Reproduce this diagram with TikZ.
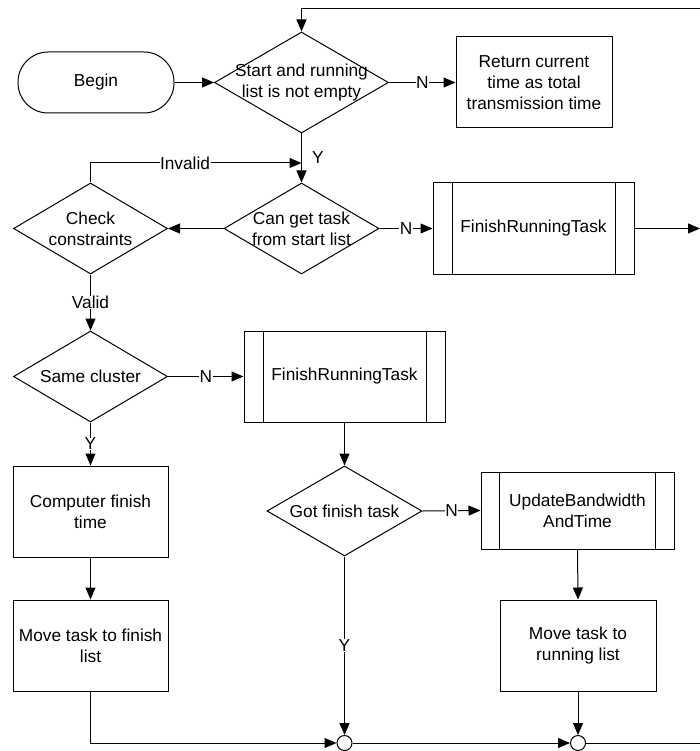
\documentclass[tikz,border=0pt]{standalone}
\usepackage{fontspec}
\setmainfont{Liberation Sans}
\usetikzlibrary{shapes.geometric,arrows.meta,calc}
\begin{document}
\begin{tikzpicture}[x=1pt,y=-1pt,
  every node/.style={font=\fontsize{17.3}{21}\selectfont},
  line/.style={draw=black,line width=1pt},
  arr/.style={line,-{Triangle[length=12pt,width=10pt]}},
  term/.style={draw,line width=1pt,rounded corners=30pt,minimum width=156pt,minimum height=61pt,inner sep=0pt},
  dec/.style={draw,diamond,line width=1pt,inner sep=0pt},
  proc/.style={draw,rectangle,line width=1pt,inner sep=0pt,align=center},
  sub/.style={proc,path picture={
     \draw[line width=1pt] ([xshift=#1]path picture bounding box.north west) -- ([xshift=#1]path picture bounding box.south west);
     \draw[line width=1pt] ([xshift=-#1]path picture bounding box.north east) -- ([xshift=-#1]path picture bounding box.south east);}},
  joint/.style={draw,circle,line width=1pt,minimum size=15pt,inner sep=0pt},
  lbl/.style={fill=white,inner sep=0.5pt},
  dtext/.style={label={[align=center]center:#1}}
]
\useasboundingbox (0,0) rectangle (700,751);

% nodes
\node[term] (begin) at (96,82.5) {Begin};
\node[dec,minimum width=174pt,minimum height=101pt,dtext={Start and running\\list is not empty}] (d1) at (301.5,82.5) {};
\node[proc,minimum width=156pt,minimum height=91pt] (ret) at (534,82.5) {Return current\\time as total\\transmission time};
\node[dec,minimum width=154pt,minimum height=91pt,dtext={Check\\constraints}] (cc) at (90.5,228.5) {};
\node[dec,minimum width=155pt,minimum height=91pt,dtext={Can get task\\from start list}] (d2) at (301.5,228.5) {};
\node[sub=19pt,minimum width=201pt,minimum height=91pt] (f1) at (533.5,228.5) {FinishRunningTask};
\node[dec,minimum width=154pt,minimum height=91pt,dtext={Same cluster}] (sc) at (90.5,376.5) {};
\node[sub=19pt,minimum width=201pt,minimum height=91pt] (f2) at (344.5,376.5) {FinishRunningTask};
\node[proc,minimum width=155pt,minimum height=91pt] (cft) at (90.5,511.5) {Computer finish\\time};
\node[dec,minimum width=155pt,minimum height=90pt,dtext={Got finish task}] (d4) at (344.5,511) {};
\node[sub=18.5pt,minimum width=193pt,minimum height=77pt] (ubt) at (577.5,510.5) {UpdateBandwidth\\AndTime};
\node[proc,minimum width=155pt,minimum height=91pt] (mtf) at (90.5,645.5) {Move task to finish\\list};
\node[proc,minimum width=156pt,minimum height=91pt] (mtr) at (578,645.5) {Move task to\\running list};
\node[joint] (c1) at (344.5,743) {};
\node[joint] (c2) at (578,743) {};

\coordinate (topR) at (700,9);
\coordinate (rightR) at (700,228.5);
\coordinate (botR) at (700,743);
\coordinate (invEnd) at (301.5,163);

% connectors
\draw[arr] (begin) -- (d1.west);
\draw[arr] (topR) -| (d1.north);
\draw[arr] (d1.east) -- node[lbl] {N} (ret.west);
\draw[arr] (d1.south) -- node[anchor=west,inner sep=0pt,xshift=10pt] {Y} (d2.north);
\draw[arr] (cc.north) |- node[lbl,pos=0.724] {Invalid} (invEnd);
\draw[arr] (d2.west) -- (cc.east);
\draw[arr] (d2.east) -- node[lbl] {N} (f1.west);
\draw[arr] (f1.east) -- (rightR);
\draw[arr] (cc.south) -- node[lbl] {Valid} (sc.north);
\draw[arr] (sc.east) -- node[lbl] {N} (f2.west);
\draw[arr] (sc.south) -- node[lbl] {Y} (cft.north);
\draw[arr] (f2.south) -- (d4.north);
\draw[arr] (cft.south) -- (mtf.north);
\draw[arr] (d4.east) -- node[lbl] {N} (ubt.west);
\draw[arr] (ubt.south) -- (mtr.north);
\draw[arr] (d4.south) -- node[lbl] {Y} (c1.north);
\draw[arr] (mtf.south) |- (c1.west);
\draw[arr] (c1.east) -- (c2.west);
\draw[arr] (mtr.south) -- (c2.north);
\draw[line] (c2.east) -- (botR);
\end{tikzpicture}
\end{document}
